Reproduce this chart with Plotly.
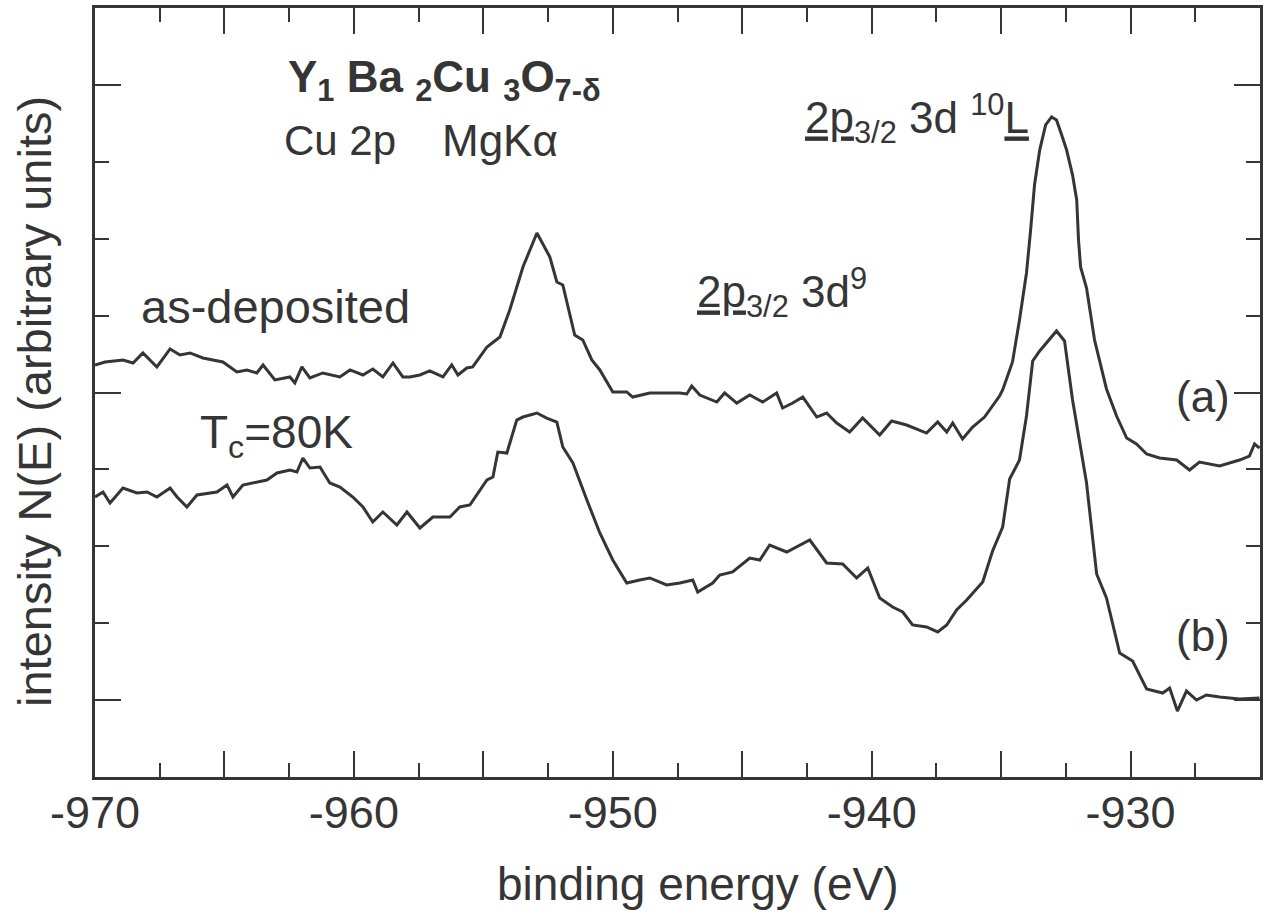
import plotly.graph_objects as go

# ---------------- data (binding energy in eV, intensity in arbitrary units) ----------------
energy_a = [-970.00, -969.61, -968.92, -968.53, -968.15, -967.61, -967.10, -966.72, -966.33, -965.83,
            -965.06, -964.52, -964.13, -963.75, -963.51, -963.05, -962.47, -962.28, -962.01, -961.70,
            -961.20, -960.54, -960.15, -959.65, -959.27, -958.88, -958.49, -958.11, -957.84, -957.45,
            -957.07, -956.56, -956.22, -955.98, -955.64, -955.41, -954.86, -954.36, -953.98, -953.47,
            -952.93, -952.43, -952.16, -951.93, -951.47, -951.16, -950.81, -950.50, -950.00, -949.46,
            -949.23, -948.57, -947.92, -947.41, -947.14, -946.95, -946.64, -945.98, -945.68, -945.21,
            -944.71, -944.21, -943.67, -943.44, -943.05, -942.66, -942.12, -941.74, -941.35, -940.85,
            -940.35, -939.69, -939.23, -938.65, -937.88, -937.45, -937.10, -936.87, -936.49, -936.10,
            -935.64, -935.06, -934.94, -934.56, -934.29, -934.02, -933.86, -933.71, -933.51, -933.28,
            -933.05, -932.86, -932.66, -932.47, -932.24, -932.08, -932.01, -931.93, -931.70, -931.39,
            -930.93, -930.54, -930.15, -929.77, -929.38, -928.88, -928.22, -927.72, -927.34, -926.56,
            -925.79, -925.41, -925.21, -925.02]
intensity_a = [5.358, 5.397, 5.423, 5.384, 5.514, 5.332, 5.566, 5.488, 5.514, 5.449,
               5.397, 5.267, 5.293, 5.254, 5.358, 5.163, 5.202, 5.124, 5.332, 5.189,
               5.254, 5.202, 5.293, 5.228, 5.306, 5.202, 5.384, 5.202, 5.202, 5.228,
               5.280, 5.202, 5.358, 5.228, 5.319, 5.332, 5.592, 5.722, 6.073, 6.632,
               7.074, 6.762, 6.437, 6.398, 5.748, 5.683, 5.423, 5.293, 5.007, 5.007,
               4.941, 4.994, 4.994, 4.994, 4.981, 5.085, 4.967, 4.876, 4.994, 4.863,
               4.967, 4.876, 4.994, 4.798, 4.863, 4.941, 4.681, 4.733, 4.603, 4.486,
               4.668, 4.447, 4.629, 4.577, 4.473, 4.616, 4.486, 4.603, 4.395, 4.551,
               4.681, 4.954, 5.033, 5.397, 5.943, 6.554, 7.113, 7.698, 8.153, 8.479,
               8.583, 8.544, 8.349, 8.153, 7.828, 7.503, 6.983, 6.632, 6.359, 5.683,
               5.046, 4.694, 4.408, 4.330, 4.200, 4.148, 4.122, 3.992, 4.096, 4.044,
               4.122, 4.174, 4.330, 4.278]

energy_b = [-970.00, -969.69, -969.42, -968.92, -968.38, -967.99, -967.61, -967.10, -966.83, -966.45,
            -966.06, -965.29, -964.90, -964.67, -964.29, -963.75, -963.36, -962.97, -962.47, -962.20,
            -961.97, -961.70, -961.31, -960.93, -960.54, -960.04, -959.65, -959.27, -958.88, -958.34,
            -957.95, -957.45, -956.95, -956.29, -955.91, -955.52, -954.86, -954.63, -954.44, -954.09,
            -953.71, -953.47, -952.93, -952.55, -952.16, -951.93, -951.54, -951.00, -950.50, -950.00,
            -949.46, -948.96, -948.57, -947.92, -947.41, -946.91, -946.72, -946.14, -945.87, -945.37,
            -944.71, -944.32, -943.94, -943.28, -942.78, -942.39, -941.74, -941.12, -940.58, -940.15,
            -939.69, -939.19, -938.80, -938.42, -937.88, -937.45, -937.10, -936.72, -936.33, -935.71,
            -935.33, -934.94, -934.67, -934.29, -934.02, -933.78, -933.51, -933.13, -932.86, -932.55,
            -932.24, -931.70, -931.31, -930.93, -930.42, -929.92, -929.38, -928.76, -928.49, -928.19,
            -927.84, -927.45, -927.07, -926.56, -925.79, -925.02]
intensity_b = [3.641, 3.706, 3.563, 3.758, 3.693, 3.706, 3.641, 3.758, 3.641, 3.511,
               3.667, 3.706, 3.797, 3.641, 3.797, 3.836, 3.862, 3.953, 3.992, 3.966,
               4.148, 4.018, 4.031, 3.823, 3.771, 3.641, 3.511, 3.316, 3.446, 3.277,
               3.446, 3.238, 3.381, 3.381, 3.511, 3.537, 3.862, 3.901, 4.226, 4.213,
               4.642, 4.681, 4.733, 4.668, 4.616, 4.291, 4.083, 3.602, 3.173, 2.822,
               2.523, 2.562, 2.588, 2.497, 2.523, 2.562, 2.406, 2.523, 2.627, 2.666,
               2.848, 2.822, 3.017, 2.926, 3.017, 3.082, 2.783, 2.770, 2.588, 2.718,
               2.328, 2.211, 2.146, 1.977, 1.951, 1.886, 1.977, 2.172, 2.302, 2.536,
               2.939, 3.251, 3.875, 4.122, 4.694, 5.410, 5.540, 5.696, 5.800, 5.670,
               4.902, 3.823, 2.640, 2.328, 1.612, 1.508, 1.144, 1.092, 1.157, 0.858,
               1.118, 1.001, 1.066, 1.040, 1.014, 1.027]

x_labelled_ticks = [-970, -960, -950, -940, -930]
x_unlabelled_long_ticks = [-965, -955, -945, -935, -925]
y_long_ticks = [1, 5, 9]

# ---------------- styling / layout ----------------
INK = "#353535"
FONT = "Liberation Sans, Arial, Helvetica, sans-serif"
W, H = 1264, 916
L, R, T, B = 95, 4, 8, 139
PW, PH = W - L - R, H - T - B


def fx(p):
    return (p - L) / PW


def fy(p):
    return (H - B - p) / PH


fig = go.Figure()
for xs, ys in ((energy_a, intensity_a), (energy_b, intensity_b)):
    fig.add_trace(go.Scatter(x=xs, y=ys, mode="lines",
                             line=dict(color=INK, width=3),
                             showlegend=False, hoverinfo="skip"))

tick_common = dict(mirror="ticks", ticks="inside", ticklen=26, tickwidth=2,
                   tickcolor=INK, showgrid=False, zeroline=False)
minor_common = dict(tickmode="linear", ticks="inside", ticklen=14, tickwidth=2,
                    tickcolor=INK, showgrid=False)

fig.update_layout(
    xaxis=dict(range=[-970, -925], tickmode="array", tickvals=x_labelled_ticks,
               ticktext=[str(v) for v in x_labelled_ticks],
               tickfont=dict(size=45, color=INK, family=FONT),
               ticklabelstandoff=-6,
               showline=True, linecolor=INK, linewidth=2.5,
               minor=dict(tick0=-970, dtick=2.5, **minor_common), **tick_common),
    xaxis2=dict(range=[-970, -925], overlaying="x", anchor="y", side="bottom",
                tickmode="array", tickvals=x_unlabelled_long_ticks,
                showticklabels=False, showline=False, **tick_common),
    yaxis=dict(range=[0, 10], tickmode="array", tickvals=y_long_ticks,
               showticklabels=False, showline=True, linecolor=INK, linewidth=2.5,
               minor=dict(tick0=0, dtick=1, **minor_common), **tick_common),
)
# invisible carrier trace so the second x axis is drawn
fig.add_trace(go.Scatter(x=[], y=[], xaxis="x2", yaxis="y", showlegend=False))


def note(text, x, y, size, xanchor="left", angle=0):
    fig.add_annotation(text=text, x=fx(x), y=fy(y), xref="paper", yref="paper",
                       xanchor=xanchor, yanchor="middle", showarrow=False,
                       textangle=angle, font=dict(family=FONT, size=size, color=INK))


note("<b>Y<sub>1</sub> Ba <sub>2</sub>Cu <sub>3</sub>O<sub>7-δ</sub></b>", 286, 80, 44)
note("Cu 2p", 282, 141, 42)
note("MgKα", 440, 141, 44)
note("as-deposited", 139, 307, 47)
note("T<sub>c</sub>=80K", 198, 435, 46)
note("<u>2p</u><sub>3/2</sub> 3d<sup>9</sup>", 695, 292, 44)
note("<u>2p</u><sub>3/2</sub> 3d <sup>10</sup><u>L</u>", 803, 118, 44)
note("(a)", 1232, 397, 44, xanchor="right")
note("(b)", 1232, 635, 44, xanchor="right")
note("intensity N(E) (arbitrary units)", 35, 402, 47, xanchor="center", angle=-90)
note("binding energy (eV)", 697, 884, 46, xanchor="center")

fig.update_layout(width=W, height=H, margin=dict(l=L, r=R, t=T, b=B, autoexpand=False),
                  paper_bgcolor="white", plot_bgcolor="white",
                  font=dict(family=FONT, color=INK))

fig.write_html("out.html")
